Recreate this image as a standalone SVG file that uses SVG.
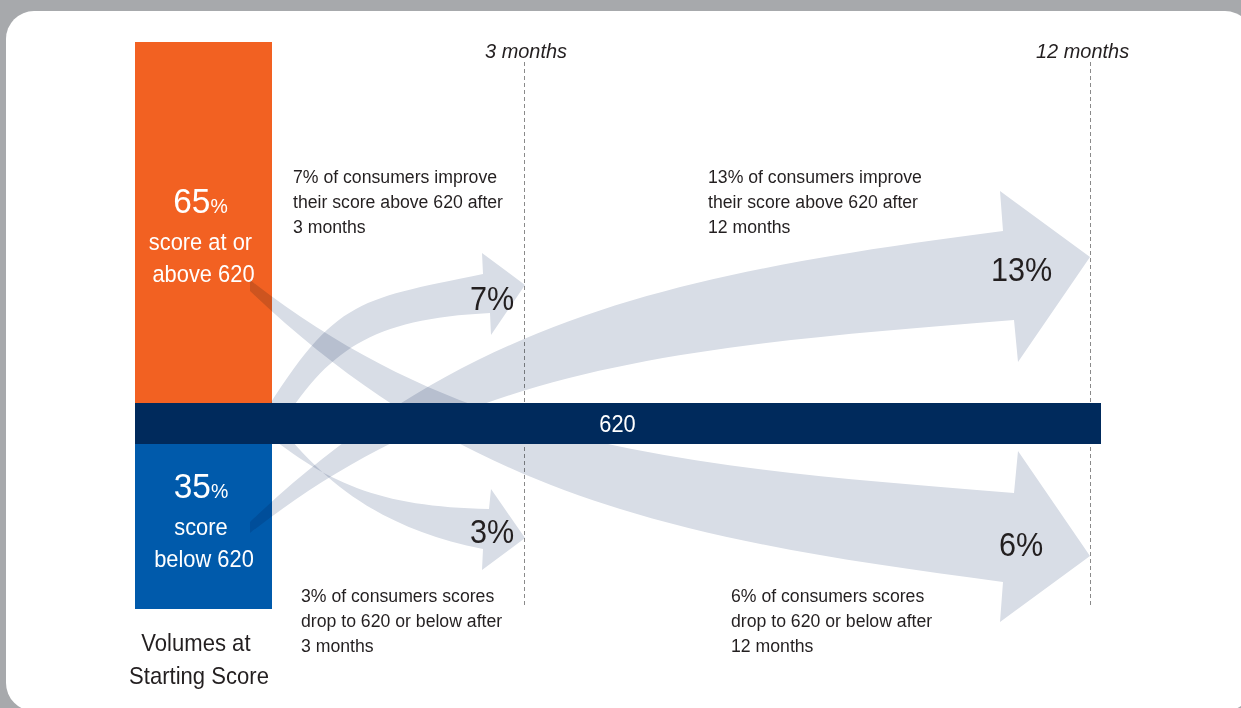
<svg xmlns="http://www.w3.org/2000/svg" width="1241" height="708" viewBox="0 0 1241 708">
  <style>
    text { font-family: "Liberation Sans", Arial, sans-serif; }
    .note { font-size: 19px; fill: #231f20; }
    .month { font-size: 21px; font-style: italic; fill: #231f20; }
    .big { font-size: 34px; fill: #231f20; }
    .lbl { font-size: 23.5px; fill: #ffffff; text-anchor: middle; }
    .pct { font-size: 36px; }
    .pcts { font-size: 21px; }
    .axis { font-size: 24px; fill: #231f20; text-anchor: middle; }
    .flow { fill: #d8dde6; mix-blend-mode: multiply; }
    .guide { stroke: #8a8a8a; stroke-width: 1; stroke-dasharray: 4 3; fill: none; }
  </style>

  <!-- frame -->
  <rect x="0" y="0" width="1241" height="708" fill="#a7a9ac"/>
  <rect x="6" y="11" width="1247" height="700" rx="28" ry="28" fill="#ffffff"/>

  <!-- time guides -->
  <g id="timeline">
    <line class="guide" x1="524.5" y1="62" x2="524.5" y2="608"/>
    <line class="guide" x1="1090.5" y1="62" x2="1090.5" y2="608"/>
    <text class="month" transform="translate(485 58) scale(0.95 1)">3 months</text>
    <text class="month" transform="translate(1036 58) scale(0.95 1)">12 months</text>
  </g>

  <!-- starting volumes -->
  <g id="above-620">
    <rect x="135" y="42" width="137" height="361" fill="#f26122"/>
    <text class="lbl" transform="translate(203.5 0) scale(0.93 1)">
      <tspan x="0" y="213" class="pct">65<tspan class="pcts">%</tspan></tspan>
      <tspan x="0" y="250">score at or</tspan>
      <tspan x="0" y="282">above 620</tspan>
    </text>
  </g>
  <g id="below-620">
    <rect x="135" y="444" width="137" height="165" fill="#005aab"/>
    <text class="lbl" transform="translate(204 0) scale(0.93 1)">
      <tspan x="0" y="498" class="pct">35<tspan class="pcts">%</tspan></tspan>
      <tspan x="0" y="535">score</tspan>
      <tspan x="0" y="567">below 620</tspan>
    </text>
  </g>
  <g id="axis-label">
    <text class="axis" transform="translate(199 0) scale(0.92 1)">
      <tspan x="0" y="651">Volumes at</tspan>
      <tspan x="0" y="684">Starting Score</tspan>
    </text>
  </g>

  <!-- migration flows -->
  <g id="connectors">
    <path id="flow-down-12" class="flow" d="M 250,280 C 466,448.6 684,466.6 1014,493 L 1018,451 L 1090,556 L 1000,622 L 1003,582 C 680,540 466,497 250,291 Z"/>
    <path id="flow-up-12" class="flow" transform="matrix(1 0 0 -1 0 813)" d="M 250,280 C 466,448.6 684,466.6 1014,493 L 1018,451 L 1090,556 L 1000,622 L 1003,582 C 680,540 466,497 250,291 Z"/>
    <path id="flow-up-3" class="flow" d="M 254,430 C 334,298 353,301 483,274 L 482,253 L 525,285 L 491,335 L 490,313 C 370,319 328,350 278,430 Z"/>
    <path id="flow-down-3" class="flow" d="M 255,424 C 325,483.5 379,506.8 489,509 L 491,489 L 525,538 L 482,570 L 483,549 C 383,529 325,485 275,420 Z"/>
    <text class="big" transform="translate(470 310) scale(0.9 1)">7%</text>
    <text class="big" transform="translate(470 543) scale(0.9 1)">3%</text>
    <text class="big" transform="translate(991 281) scale(0.9 1)">13%</text>
    <text class="big" transform="translate(999 556) scale(0.9 1)">6%</text>
  </g>

  <!-- threshold bar -->
  <g id="threshold">
    <rect x="135" y="403" width="966" height="41" fill="#002a5c"/>
    <text transform="translate(617.5 432) scale(0.95 1)" font-size="23" fill="#ffffff" text-anchor="middle">620</text>
  </g>

  <!-- annotations -->
  <g id="notes">
    <text class="note" transform="translate(293 183) scale(0.93 1)">
      <tspan x="0" y="0">7% of consumers improve</tspan>
      <tspan x="0" y="25">their score above 620 after</tspan>
      <tspan x="0" y="50">3 months</tspan>
    </text>
    <text class="note" transform="translate(708 183) scale(0.93 1)">
      <tspan x="0" y="0">13% of consumers improve</tspan>
      <tspan x="0" y="25">their score above 620 after</tspan>
      <tspan x="0" y="50">12 months</tspan>
    </text>
    <text class="note" transform="translate(301 602) scale(0.93 1)">
      <tspan x="0" y="0">3% of consumers scores</tspan>
      <tspan x="0" y="25">drop to 620 or below after</tspan>
      <tspan x="0" y="50">3 months</tspan>
    </text>
    <text class="note" transform="translate(731 602) scale(0.93 1)">
      <tspan x="0" y="0">6% of consumers scores</tspan>
      <tspan x="0" y="25">drop to 620 or below after</tspan>
      <tspan x="0" y="50">12 months</tspan>
    </text>
  </g>
</svg>
